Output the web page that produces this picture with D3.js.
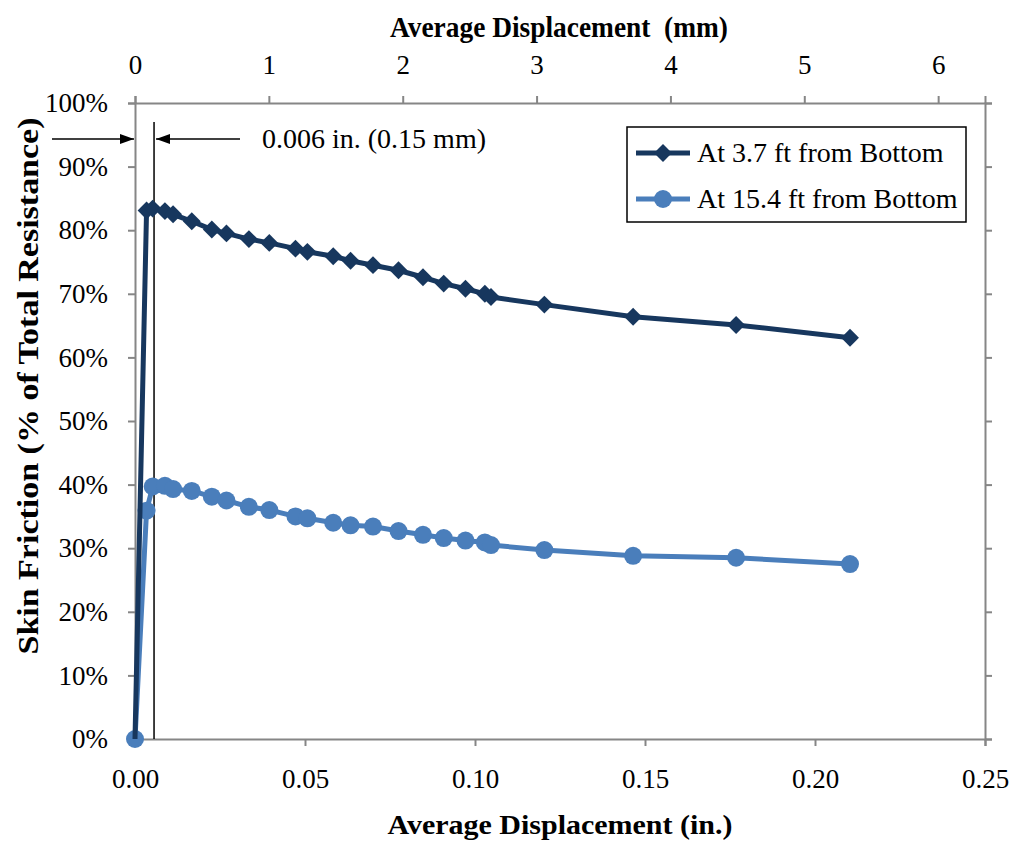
<!DOCTYPE html>
<html>
<head>
<meta charset="utf-8">
<script src="https://cdn.jsdelivr.net/npm/d3@7"></script>
<style>
  body { margin: 0; background: #fff; }
  svg { display: block; }
  svg text { font-family: "Times New Roman", "Liberation Serif", Tinos, serif; fill: #000; }
</style>
</head>
<body>
<svg id="chart" width="1009" height="842"></svg>
<script>
// ---- data ----
const displacementIn = [0, 0.0034, 0.0052, 0.0088, 0.0112, 0.0167, 0.0226, 0.0269, 0.0335, 0.0395,
  0.0472, 0.0507, 0.0583, 0.0634, 0.0700, 0.0775, 0.0847, 0.0908, 0.0972, 0.1029, 0.1047,
  0.1204, 0.1465, 0.1768, 0.2103];
const skinFriction37 = [0, 83.1, 83.4, 83.0, 82.5, 81.4, 80.1, 79.5, 78.6, 78.0,
  77.1, 76.6, 75.9, 75.2, 74.5, 73.7, 72.6, 71.6, 70.8, 70.0, 69.5,
  68.3, 66.4, 65.1, 63.1];
const skinFriction154 = [0, 35.9, 39.7, 39.8, 39.3, 39.0, 38.1, 37.5, 36.5, 36.0,
  35.0, 34.7, 34.0, 33.6, 33.4, 32.7, 32.1, 31.6, 31.2, 30.9, 30.5,
  29.7, 28.8, 28.5, 27.5];
const seriesNames = ["At 3.7 ft from Bottom", "At 15.4 ft from Bottom"];
const xTicksIn = [0, 0.05, 0.10, 0.15, 0.20, 0.25];
const xTicksMm = [0, 1, 2, 3, 4, 5, 6];
const yTicks = [0, 10, 20, 30, 40, 50, 60, 70, 80, 90, 100];
const markerLineIn = [0.0056];
const annotationText = ["0.006 in. (0.15 mm)"];

// ---- layout ----
const svg = d3.select("#chart");
const L = 135, R = 985, T = 103, B = 739;
const x = d3.scaleLinear().domain([0, 0.25]).range([L, R]);
const xmm = d3.scaleLinear().domain([0, 0.25 * 25.4]).range([L, R]);
const y = d3.scaleLinear().domain([0, 100]).range([B, T]);
const axisColor = "#868686";

function styleAxis(g) {
  g.attr("font-family", null).attr("font-size", null);
  g.selectAll("path").attr("stroke", axisColor).attr("stroke-width", 2);
  g.selectAll("line").attr("stroke", axisColor).attr("stroke-width", 2);
  g.selectAll("text").style("font-size", "27px").attr("fill", "#000");
}

// bottom axis
svg.append("g").attr("transform", `translate(0,${B})`)
  .call(d3.axisBottom(x).tickValues(xTicksIn).tickFormat(d3.format(".2f")).tickSizeOuter(0).tickSize(7).tickPadding(23))
  .call(styleAxis);
// top axis (mm)
svg.append("g").attr("transform", `translate(0,${T})`)
  .call(d3.axisTop(xmm).tickValues(xTicksMm).tickFormat(d3.format("d")).tickSizeOuter(0).tickSize(7).tickPadding(22))
  .call(styleAxis);
// left axis
svg.append("g").attr("transform", `translate(${L},0)`)
  .call(d3.axisLeft(y).tickValues(yTicks).tickFormat(d => d + "%").tickSizeOuter(0).tickSize(7).tickPadding(20))
  .call(styleAxis);
// right axis (ticks only)
svg.append("g").attr("transform", `translate(${R},0)`)
  .call(d3.axisRight(y).tickValues(yTicks).tickFormat("").tickSizeOuter(0).tickSize(7))
  .call(styleAxis);

// axis titles
svg.append("text").attr("x", 559).attr("y", 37).attr("text-anchor", "middle")
  .style("font-size", "29px").attr("font-weight", "bold").attr("textLength", 338).attr("lengthAdjust", "spacingAndGlyphs")
  .style("white-space", "pre").text("Average Displacement  (mm)");
svg.append("text").attr("x", 560).attr("y", 834).attr("text-anchor", "middle")
  .style("font-size", "28px").attr("font-weight", "bold").attr("textLength", 345).attr("lengthAdjust", "spacingAndGlyphs")
  .text("Average Displacement (in.)");
svg.append("text").attr("transform", "translate(38,386) rotate(-90)").attr("text-anchor", "middle")
  .style("font-size", "29px").attr("font-weight", "bold").attr("textLength", 537).attr("lengthAdjust", "spacingAndGlyphs")
  .text("Skin Friction (% of Total Resistance)");

// annotation: vertical line + arrows
const defs = svg.append("defs");
defs.append("marker").attr("id", "arrow").attr("viewBox", "0 0 10 10").attr("refX", 10).attr("refY", 5)
  .attr("markerWidth", 14).attr("markerHeight", 14).attr("markerUnits", "userSpaceOnUse").attr("orient", "auto")
  .append("path").attr("d", "M0,1.5 L10,5 L0,8.5 Z").attr("fill", "#000");

svg.selectAll(".vline").data(markerLineIn).enter().append("line")
  .attr("x1", d => x(d)).attr("x2", d => x(d)).attr("y1", 122).attr("y2", B)
  .attr("stroke", "#000").attr("stroke-width", 1.5);
svg.append("line").attr("x1", 52).attr("x2", L - 1).attr("y1", 139).attr("y2", 139)
  .attr("stroke", "#000").attr("stroke-width", 1.5).attr("marker-end", "url(#arrow)");
svg.append("line").attr("x1", 240).attr("x2", x(markerLineIn[0]) + 2).attr("y1", 139).attr("y2", 139)
  .attr("stroke", "#000").attr("stroke-width", 1.5).attr("marker-end", "url(#arrow)");
svg.append("text").attr("x", 262).attr("y", 148).style("font-size", "28px").text(annotationText[0]);

// series
const c1 = "#17375e", c2 = "#4a7ebb";
const d1 = displacementIn.map((d, i) => [d, skinFriction37[i]]);
const d2 = displacementIn.map((d, i) => [d, skinFriction154[i]]);
const line = d3.line().x(d => x(d[0])).y(d => y(d[1]));

svg.append("path").datum(d2).attr("d", line).attr("fill", "none").attr("stroke", c2)
  .attr("stroke-width", 5).attr("stroke-linejoin", "round");
svg.selectAll(".c2").data(d2).enter().append("circle")
  .attr("cx", d => x(d[0])).attr("cy", d => y(d[1])).attr("r", 9).attr("fill", c2);

svg.append("path").datum(d1).attr("d", line).attr("fill", "none").attr("stroke", c1)
  .attr("stroke-width", 5).attr("stroke-linejoin", "round");
const diamond = d3.symbol().type(d3.symbolSquare).size(160);
svg.selectAll(".d1").data(d1.slice(1)).enter().append("path")
  .attr("d", diamond).attr("transform", d => `translate(${x(d[0])},${y(d[1])}) rotate(45)`).attr("fill", c1);

// legend
const lg = svg.append("g");
lg.append("rect").attr("x", 627).attr("y", 127).attr("width", 339).attr("height", 95)
  .attr("fill", "#fff").attr("stroke", "#000").attr("stroke-width", 1.5);
const legendRows = [
  { name: seriesNames[0], color: c1, type: "diamond", yy: 153 },
  { name: seriesNames[1], color: c2, type: "circle", yy: 199 }
];
legendRows.forEach(r => {
  lg.append("line").attr("x1", 636).attr("x2", 690).attr("y1", r.yy).attr("y2", r.yy)
    .attr("stroke", r.color).attr("stroke-width", 5);
  if (r.type === "diamond") {
    lg.append("path").attr("d", diamond).attr("transform", `translate(663,${r.yy}) rotate(45)`).attr("fill", r.color);
  } else {
    lg.append("circle").attr("cx", 663).attr("cy", r.yy).attr("r", 9).attr("fill", r.color);
  }
  lg.append("text").attr("x", 697).attr("y", r.yy + 9).style("font-size", "28px").text(r.name);
});
</script>
</body>
</html>
